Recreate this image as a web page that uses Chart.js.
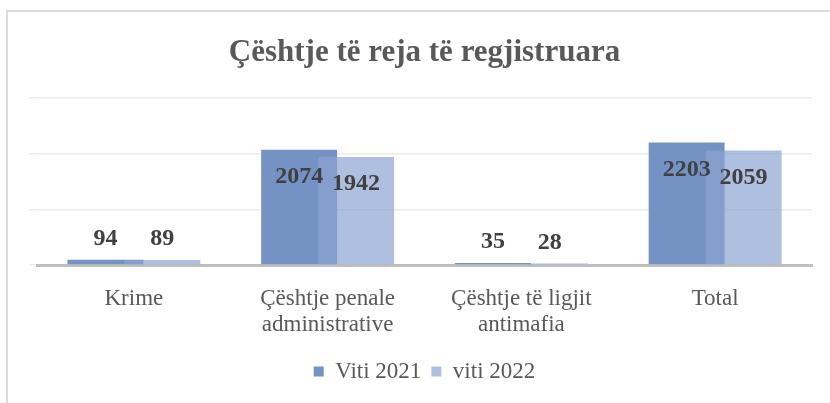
<!DOCTYPE html>
<html>
<head>
<meta charset="utf-8">
<script src="https://cdn.jsdelivr.net/npm/chart.js@4"></script>
<style>
  html, body { margin: 0; padding: 0; background: #fff; overflow: hidden; }
  #frame { position: absolute; left: 6px; top: 10px; width: 900px; height: 500px; border: 2px solid #dcdcdc; }
  #chart { position: absolute; left: 0; top: 0; }
</style>
</head>
<body>
<div id="frame"></div>
<canvas id="chart" width="830" height="403"></canvas>
<script>
const categories = [
    ["Krime"],
    ["Çështje penale", "administrative"],
    ["Çështje të ligjit", "antimafia"],
    ["Total"]
];
const viti2021 = [94, 2074, 35, 2203];
const viti2022 = [89, 1942, 28, 2059];
const seriesNames = ["Viti 2021", "viti 2022"];
const yTicks = [0, 1000, 2000, 3000];

const serif = "'Liberation Serif', 'Times New Roman', serif";

// draw the 2022 bars above the 2021 ones (they overlap)
const lateDraw = {
    id: "lateDraw",
    beforeDatasetDraw(chart, args) {
        if (args.index === 1 && !chart.$late) return false;
    },
    afterDatasetsDraw(chart) {
        chart.$late = true;
        const meta = chart.getDatasetMeta(1);
        if (!meta.hidden) meta.controller.draw();
        chart.$late = false;
    }
};

const valueLabels = {
    id: "valueLabels",
    afterDatasetsDraw(chart) {
        const ctx = chart.ctx;
        ctx.save();
        ctx.font = "bold 24px " + serif;
        ctx.fillStyle = "#404040";
        ctx.textAlign = "center";
        ctx.textBaseline = "middle";
        chart.data.datasets.forEach((ds, di) => {
            const meta = chart.getDatasetMeta(di);
            meta.data.forEach((bar, i) => {
                const h = bar.base - bar.y;
                const y = h > 60 ? bar.y + 27 : bar.y - 21;
                ctx.fillText(String(ds.data[i]), bar.x, y);
            });
        });
        ctx.restore();
    }
};

const ctx = document.getElementById("chart");

const chart = new Chart(ctx, {
    type: "bar",
    data: {
        labels: categories,
        datasets: [{
            label: seriesNames[0],
            data: viti2021,
            backgroundColor: "rgb(116,146,196)"
        }, {
            label: seriesNames[1],
            data: viti2022,
            backgroundColor: "rgba(141,164,211,0.7)"
        }]
    },
    options: {
        responsive: false,
        animation: false,
        datasets: {
            bar: {
                categoryPercentage: 0.588,
                barPercentage: 1.333
            }
        },
        layout: {
            padding: { left: 37, right: 18, top: 0, bottom: 10 }
        },
        plugins: {
            title: {
                display: true,
                text: "Çështje të reja të regjistruara",
                color: "#595959",
                font: { family: serif, size: 31, weight: "bold" },
                padding: { top: 34, bottom: 27 }
            },
            legend: {
                position: "bottom",
                labels: {
                    color: "#595959",
                    font: { family: serif, size: 23 },
                    boxWidth: 10,
                    boxHeight: 10,
                    padding: 10
                }
            },
            tooltip: { enabled: false }
        },
        scales: {
            x: {
                grid: { display: false },
                border: { color: "#bfbfbf", width: 3 },
                ticks: {
                    color: "#595959",
                    font: { family: serif, size: 23, lineHeight: 1.13 },
                    padding: 13,
                    maxRotation: 0,
                    autoSkip: false
                },
                afterFit(scale) { scale.height = 85; }
            },
            y: {
                min: yTicks[0],
                max: yTicks[yTicks.length - 1],
                ticks: { display: false, stepSize: 1000 },
                grid: { color: "#ececec", lineWidth: 1.5 },
                border: { display: false },
                afterFit(scale) { scale.width = 0; }
            }
        }
    },
    plugins: [lateDraw, valueLabels]
});
</script>
</body>
</html>
